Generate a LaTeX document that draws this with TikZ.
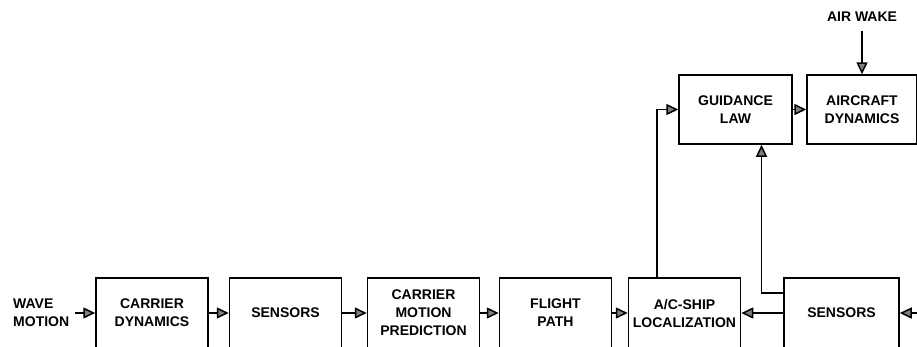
\documentclass[tikz,border=0pt]{standalone}
\usepackage{fontspec}
\setmainfont{Liberation Sans}
\usetikzlibrary{arrows.meta}
\begin{document}
\begin{tikzpicture}[x=1pt,y=-1pt,
	block/.style={draw, line width=1.5pt, minimum width=112pt, minimum height=70pt,
		align=center, inner sep=1pt, font=\fontsize{14}{18}\selectfont\bfseries},
	lbl/.style={align=left, inner sep=0pt, font=\fontsize{14}{18}\selectfont\bfseries},
	sig/.style={line width=1.5pt, -{Triangle[length=12pt,width=11pt,fill=gray]}}]
	\clip (0,0) rectangle (917,346);

	\node[block] (cardyn) at (152,313) {CARRIER\\DYNAMICS};
	\node[block] (sens1) at (285.5,313) {SENSORS};
	\node[block] (predict) at (423.5,313) {CARRIER\\MOTION\\PREDICTION};
	\node[block] (path) at (555.5,313) {FLIGHT\\PATH};
	\node[block] (local) at (684.5,313) {A/C-SHIP\\LOCALIZATION};
	\node[block, minimum width=115pt] (sens2) at (841.5,313) {SENSORS};
	\node[block, minimum width=113pt, minimum height=69pt] (guide) at (735.5,109.5) {GUIDANCE\\LAW};
	\node[block, minimum width=110pt, minimum height=69pt] (acdyn) at (862,109.5) {AIRCRAFT\\DYNAMICS};

	\node[lbl, anchor=west] (wave) at (13,313) {WAVE\\MOTION};
	\node[lbl] (wake) at (862,17) {AIR WAKE};
	\coordinate (ship) at (917,313);

	\draw[sig] ([xshift=6pt]wave.east) -- (cardyn.west);
	\foreach \a/\b in {cardyn/sens1, sens1/predict, predict/path, path/local}{
			\draw[sig] (\a) -- (\b);
		}
	\draw[sig] (sens2) -- (local);
	\draw[sig] (ship) -- (sens2.east);
	\draw[sig] ([yshift=-9pt]wake.south) -- (acdyn.north);
	\draw[sig] (guide) -- (acdyn);
	\draw[sig] ([xshift=-27.5pt]local.north) |- (guide.west);
	\draw[sig] ([yshift=20pt]sens2.west) -| ([xshift=26pt]guide.south);
\end{tikzpicture}
\end{document}
